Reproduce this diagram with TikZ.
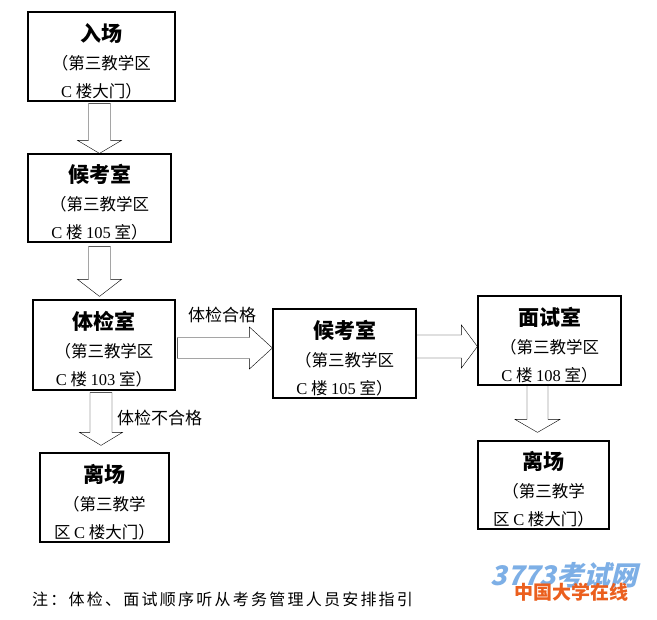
\documentclass[tikz,border=0pt]{standalone}
\usepackage{fontspec}
\setmainfont{Liberation Serif}
\newfontfamily\zh{Noto Sans CJK SC}
\newfontfamily\zhwide{Noto Sans CJK SC}[LetterSpace=14]
\newfontfamily\wm{Noto Sans CJK SC}[FakeSlant=0.25]
\usetikzlibrary{calc}
\newcommand{\ttl}[1]{{\bfseries\fontsize{21}{28}\selectfont\rule{0pt}{27pt}#1}}
\newcommand{\lat}[1]{{\rmfamily #1}}
\tikzset{
	room/.style={draw, line width=1.2pt, fill=white, align=center, inner sep=0pt,
		minimum width=143pt, minimum height=89pt, font=\zh\fontsize{16.5}{28}\selectfont},
	fatarrow/.style={draw=black!65, line width=0.9pt, fill=white},
	fatdown/.style n args={3}{fatarrow, to path={let \p1=(\tikztostart), \p2=(\tikztotarget) in
		(\x1-#1pt,\y1) -- (\x1-#1pt,\y2+#3pt) -- (\x1-#2pt,\y2+#3pt) -- (\x1,\y2)
		-- (\x1+#2pt,\y2+#3pt) -- (\x1+#1pt,\y2+#3pt) -- (\x1+#1pt,\y1) -- cycle}},
	fatright/.style n args={3}{fatarrow, to path={let \p1=(\tikztostart), \p2=(\tikztotarget) in
		(\x1,\y1+#1pt) -- (\x2-#3pt,\y1+#1pt) -- (\x2-#3pt,\y1+#2pt) -- (\x2,\y1)
		-- (\x2-#3pt,\y1-#2pt) -- (\x2-#3pt,\y1-#1pt) -- (\x1,\y1-#1pt) -- cycle}},
	tag/.style={font=\zh\fontsize{17}{20}\selectfont, inner sep=0pt}
}
\begin{document}
\begin{tikzpicture}[x=1pt,y=-1pt]
	\useasboundingbox[fill=white] (0,0) rectangle (657,620);
	% rooms
	\node[room, minimum width=147pt] (ruchang) at (101.5,56.5) {\ttl{入场}\\（第三教学区\\\lat{C} 楼大门）};
	\node[room, minimum height=88pt] (houkao1) at (99.5,198) {\ttl{候考室}\\（第三教学区\\\lat{C} 楼 \lat{105} 室）};
	\node[room, minimum width=142pt, minimum height=90pt] (tijian) at (104,345) {\ttl{体检室}\\（第三教学区\\\lat{C} 楼 \lat{103} 室）};
	\node[room] (houkao2) at (344.5,353.5) {\ttl{候考室}\\（第三教学区\\\lat{C} 楼 \lat{105} 室）};
	\node[room] (mianshi) at (549.5,340.5) {\ttl{面试室}\\（第三教学区\\\lat{C} 楼 \lat{108} 室）};
	\node[room, minimum width=129pt] (lichang1) at (104.5,497.5) {\ttl{离场}\\（第三教学\\区 \lat{C} 楼大门）};
	\node[room, minimum width=131pt, minimum height=88pt] (lichang2) at (543.5,485) {\ttl{离场}\\（第三教学\\区 \lat{C} 楼大门）};
	% arrows
	\draw ($(ruchang.south)+(-2,2)$) to[fatdown={11}{22}{13}] (houkao1.north);
	\draw ($(houkao1.south)+(0,4)$) to[fatdown={11}{22}{17}] ($(tijian.north)+(0,-3)$);
	\draw ($(tijian.east)+(2,3)$) to[fatright={10.5}{21}{23}] (houkao2.west);
	\draw ($(houkao2.east)+(0,-7)$) to[fatright={11.5}{21.5}{16}] (mianshi.west);
	\draw ($(tijian.south)+(-3,2)$) to[fatdown={11}{21.5}{13}] ($(lichang1.north)+(0,-7)$);
	\draw ($(mianshi.south)+(-12,0)$) to[fatdown={10.5}{22.5}{13}] ($(lichang2.north)+(0,-8)$);
	% labels
	\node[tag] (pass) at (222,315) {体检合格};
	\node[tag, anchor=west] (fail) at (117,418) {体检不合格};
	\node[anchor=west, inner sep=0pt, font=\zhwide\fontsize{16}{20}\selectfont] (note) at (32,599) {注：体检、面试顺序听从考务管理人员安排指引};
	% watermark
	\node[inner sep=0pt, text={rgb,255:red,125;green,175;blue,230}, font=\wm\bfseries\fontsize{27}{30}\selectfont] (wm1) at (564,575) {3773考试网};
	\node[inner sep=0pt, text={rgb,255:red,235;green,95;blue,30}, font=\zh\bfseries\fontsize{19}{20}\selectfont] (wm2) at (571,592) {中国大学在线};
\end{tikzpicture}
\end{document}
